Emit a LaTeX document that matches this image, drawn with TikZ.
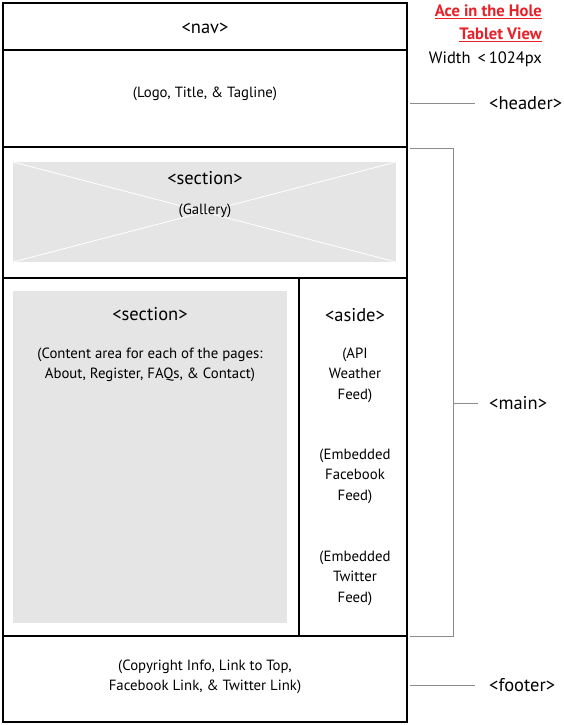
\documentclass[tikz,border=0pt]{standalone}
\usepackage{fontspec}
\setmainfont{PT Sans}
\definecolor{titlered}{RGB}{232,32,40}
\begin{document}
\begin{tikzpicture}[x=1pt,y=-1pt,
  frame/.style={draw=black,line width=2.4pt},
  greybox/.style={fill=black!10,draw=none},
  bracket/.style={draw=black!45,line width=0.9pt},
  big/.style={font=\fontsize{18.5}{22}\selectfont,inner sep=0pt},
  small/.style={font=\fontsize{14.8}{20.5}\selectfont,align=center,inner sep=0pt},
  lbl/.style={font=\fontsize{18.5}{22}\selectfont,anchor=west,inner sep=0pt},
  title/.style={font=\fontsize{16.5}{20}\selectfont\bfseries,text=titlered,anchor=east,inner sep=0pt}]
\useasboundingbox (0,0) rectangle (564,725);
% grey boxes
\fill[greybox] (13,162) rectangle (396,262);
\draw[white,line width=0.8pt] (13,162) -- (396,262) (13,262) -- (396,162);
\fill[greybox] (13,291) rectangle (287,623);
% frames
\draw[frame] (3,3) rectangle (407,722);
\draw[frame] (3,50) -- (407,50);
\draw[frame] (3,147) -- (407,147);
\draw[frame] (3,278) -- (407,278);
\draw[frame] (3,636) -- (407,636);
\draw[frame] (299,278) -- (299,636);
% texts
\node[big] (nav) at (205,28) {<nav>};
\node[small] (hdr) at (205,94) {(Logo, Title, \& Tagline)};
\node[big] (sec1) at (205,178) {<section>};
\node[small] (gal) at (205,211) {(Gallery)};
\node[big] (sec2) at (150,314) {<section>};
\node[small] (cont) at (150,365) {(Content area for each of the pages:\\About, Register, FAQs, \& Contact)};
\node[big] (aside) at (355,315) {<aside>};
\node[small] (api) at (355,375) {(API\\Weather\\Feed)};
\node[small] (fb) at (355,476) {(Embedded\\Facebook\\Feed)};
\node[small] (tw) at (355,578) {(Embedded\\Twitter\\Feed)};
\node[small] (foot) at (205,677) {(Copyright Info, Link to Top,\\Facebook Link, \& Twitter Link)};
% title
\node[title] (t1) at (542,12) {\underline{Ace in the Hole}};
\node[title] (t2) at (542,35) {\underline{Tablet View}};
\node[font=\fontsize{16.5}{20}\selectfont,anchor=east,inner sep=0pt] (t3) at (542,59) {Width \,<\,1024px};
% labels
\node[lbl] (lh) at (489,103) {<header>};
\node[lbl] (lm) at (489,403) {<main>};
\node[lbl] (lf) at (489,685) {<footer>};
\coordinate (hs) at (410,103);
\coordinate (fs) at (410,685);
\draw[bracket] (hs) -- (475,103);
\draw[bracket] (fs) -- (475,685);
\draw[bracket] (410,148) -- (453,148) -- (453,636) -- (410,636);
\draw[bracket] (453,403) -- (478,403);
\end{tikzpicture}
\end{document}
